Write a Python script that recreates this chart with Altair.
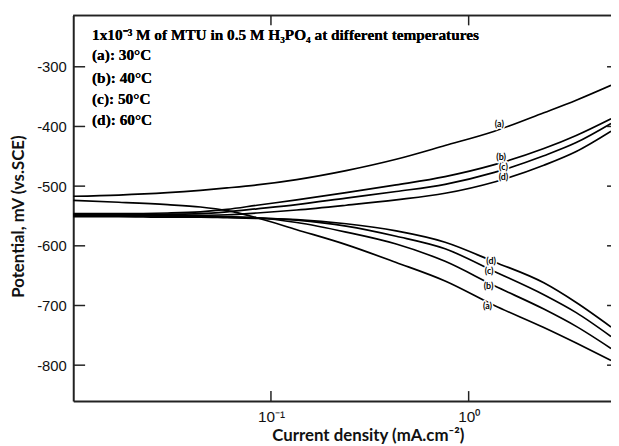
import altair as alt
import pandas as pd

# current density (mA.cm-2) sample points, shared by all curves
CURRENT = [0.01, 0.017, 0.03, 0.044, 0.06, 0.085, 0.135, 0.24, 0.43, 0.76, 1.35, 2.4, 3.5, 5.25]

# anodic branches (mV vs SCE)
ANODIC_A = [-517, -515, -511, -507, -503, -498, -489, -474, -455, -432, -408, -377, -356, -331]
ANODIC_B = [-546, -546, -545, -543, -539, -532, -523, -511, -498, -484, -464, -437, -415, -387]
ANODIC_C = [-548, -548, -547, -546, -543, -538, -531, -520, -509, -497, -477, -449, -427, -395]
ANODIC_D = [-550, -550, -550, -549, -548, -545, -540, -532, -523, -512, -493, -465, -442, -408]

# cathodic branches (mV vs SCE)
CATHODIC_A = [-524, -527, -531, -535, -541, -553, -573, -598, -628, -659, -700, -737, -763, -792]
CATHODIC_B = [-547, -548, -549, -550, -551, -553, -561, -577, -597, -626, -667, -706, -735, -772]
CATHODIC_C = [-549, -549, -550, -551, -552, -553, -557, -567, -584, -605, -643, -682, -712, -752]
CATHODIC_D = [-551, -551, -552, -552, -553, -554, -556, -563, -575, -594, -627, -662, -695, -736]

# curve label positions
LABEL_TEXT = ["(a)", "(b)", "(c)", "(d)", "(d)", "(c)", "(b)", "(a)"]
LABEL_I = [1.43, 1.46, 1.50, 1.50, 1.30, 1.27, 1.26, 1.245]
LABEL_E = [-396, -452, -468, -485, -626, -643, -668, -701]

Y_TICKS = [-300, -400, -500, -600, -700, -800]
X_TICKS = [0.1, 1.0]

LEGEND_LINES = [
    "1x10\u207b\u00b3 M of MTU in 0.5 M H\u2083PO\u2084 at different temperatures",
    "(a): 30\u00b0C",
    "(b): 40\u00b0C",
    "(c): 50\u00b0C",
    "(d): 60\u00b0C",
]

W, H = 544, 390

curves = {
    "a_an": ANODIC_A, "b_an": ANODIC_B, "c_an": ANODIC_C, "d_an": ANODIC_D,
    "a_cat": CATHODIC_A, "b_cat": CATHODIC_B, "c_cat": CATHODIC_C, "d_cat": CATHODIC_D,
}
rows = []
for name, vals in curves.items():
    for i, e in zip(CURRENT, vals):
        rows.append({"curve": name, "i": i, "E": e})
df = pd.DataFrame(rows)

labels_df = pd.DataFrame({"text": LABEL_TEXT, "i": LABEL_I, "E": LABEL_E})
yt_df = pd.DataFrame({"E": Y_TICKS})
xt_df = pd.DataFrame({"i": X_TICKS})

xscale = alt.Scale(type="log", domain=[0.01, 5.248], nice=False)
yscale = alt.Scale(domain=[-860, -214], nice=False, zero=False)

AX = "#222222"

x_axis = alt.Axis(
    values=X_TICKS,
    labelExpr="datum.value < 0.5 ? '10\u207b\u00b9' : '10\u2070'",
    ticks=False, tickSize=0, grid=False,
    domainColor=AX, domainWidth=2,
    labelFont="Liberation Sans", labelFontSize=15.5, labelColor="#111111",
    labelPadding=9,
    title="Current density (mA.cm\u207b\u00b2)",
    titleFont="Lato", titleFontSize=17, titleFontWeight="bold", titleColor="#111111",
    titleX=298, titleY=35, titleAlign="center", titleBaseline="middle",
)
y_axis = alt.Axis(
    values=Y_TICKS,
    labelExpr="'-' + abs(datum.value)",
    ticks=False, tickSize=0, grid=False,
    domainColor=AX, domainWidth=2,
    labelFont="Liberation Sans", labelFontSize=15, labelColor="#111111",
    labelPadding=7,
    title="Potential, mV (vs.SCE)",
    titleFont="Lato", titleFontSize=17, titleFontWeight="bold", titleColor="#111111",
    titleAngle=-90, titleX=-55, titleY=203, titleAlign="center", titleBaseline="middle",
)

XE = alt.X("i:Q", scale=xscale, axis=x_axis)
YE = alt.Y("E:Q", scale=yscale, axis=y_axis)

lines = alt.Chart(df).mark_line(
    color="black", strokeWidth=1.7, interpolate="monotone", clip=True
).encode(x=XE, y=YE, detail="curve:N")

label_halo = alt.Chart(labels_df).mark_text(
    font="Lato", fontSize=9, fontWeight="bold", stroke="white", strokeWidth=3,
    color="white", align="center", baseline="middle"
).encode(x=XE, y=YE, text="text:N")
label_text = alt.Chart(labels_df).mark_text(
    font="Lato", fontSize=9, fontWeight="bold", color="black",
    align="center", baseline="middle"
).encode(x=XE, y=YE, text="text:N")

left_ticks = alt.Chart(yt_df).mark_rule(color=AX, strokeWidth=1.5).encode(
    y=YE, x=alt.value(0), x2=alt.value(12)
)
right_ticks = alt.Chart(yt_df).mark_rule(color=AX, strokeWidth=1.5).encode(
    y=YE, x=alt.value(W - 4), x2=alt.value(W)
)
bottom_ticks = alt.Chart(xt_df).mark_rule(color=AX, strokeWidth=1.5).encode(
    x=XE, y=alt.value(H - 10), y2=alt.value(H)
)
top_ticks = alt.Chart(xt_df).mark_rule(color=AX, strokeWidth=1.5).encode(
    x=XE, y=alt.value(0), y2=alt.value(10)
)
top_line = alt.Chart(xt_df).mark_rule(color=AX, strokeWidth=1.5).encode(
    x=alt.value(0), x2=alt.value(W), y=alt.value(0)
)

legend_layers = []
legend_y = [20, 40, 63, 85, 106]
for txt, yy in zip(LEGEND_LINES, legend_y):
    legend_layers.append(
        alt.Chart(xt_df).mark_text(
            font="Liberation Serif", fontSize=15.5, fontWeight="bold", color="black",
            align="left", baseline="middle", text=txt
        ).encode(x=alt.value(19), y=alt.value(yy))
    )

chart = alt.layer(
    lines, label_halo, label_text, left_ticks, right_ticks, bottom_ticks,
    top_ticks, top_line, *legend_layers
).properties(
    width=W, height=H,
    autosize=alt.AutoSizeParams(type="none"),
    padding={"left": 66, "top": 5, "right": 0, "bottom": 43},
).configure_view(stroke=None).configure(background="white")

chart.save("out.html", embed_options={"renderer": "svg", "actions": False})
